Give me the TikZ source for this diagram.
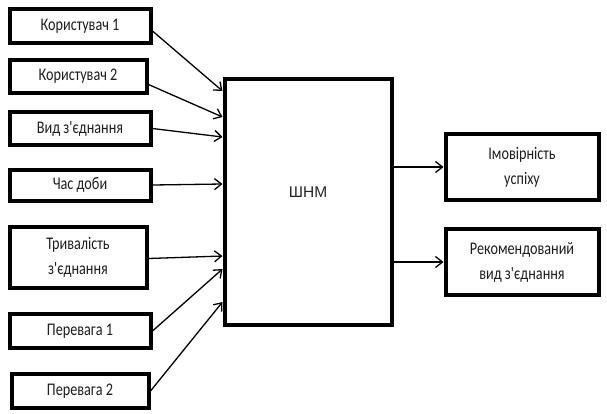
\documentclass[tikz,border=0pt]{standalone}
\usepackage{fontspec}
\setmainfont{Carlito}[Ligatures=TeXOff]
\newfontfamily\arialf{Liberation Sans}
\usetikzlibrary{arrows.meta}
\definecolor{txt}{HTML}{1E1E1E}
\newcommand\tl[1]{\scalebox{1}[1.25]{#1}}
\tikzset{
  box/.style={draw=black, line width=4pt, fill=white, align=center, text=txt,
    font=\fontsize{14.2}{25}\selectfont, inner sep=0pt},
  arr/.style={line width=1.3pt, -{Straight Barb[length=7pt,width=11pt,line width=1.3pt]}}
}
\begin{document}
\begin{tikzpicture}[x=1pt,y=-1pt]
\useasboundingbox (0,0) rectangle (607,413);
\node[box, minimum width=141, minimum height=34] (u1) at (80,26) {\tl{Користувач 1}};
\node[box, minimum width=137, minimum height=33] (u2) at (78,76.5) {\tl{Користувач 2}};
\node[box, minimum width=141, minimum height=33] (vz) at (80,128.5) {\tl{Вид з'єднання}};
\node[box, minimum width=141, minimum height=31] (cd) at (80,185) {\tl{Час доби}};
\node[box, minimum width=137, minimum height=61] (tz) at (78,257.5) {\tl{Тривалість}\\\tl{з'єднання}};
\node[box, minimum width=141, minimum height=34] (p1) at (80,331) {\tl{Перевага 1}};
\node[box, minimum width=137, minimum height=34] (p2) at (80,391) {\tl{Перевага 2}};
\node[box, minimum width=167, minimum height=246] (c) at (308,202) {};
\node[text=black!85, font=\arialf\fontsize{15.5}{18}\selectfont] (lbl) at (308,192) {ШНМ};
\node[box, minimum width=153, minimum height=66] (im) at (522,167) {\tl{Імовірність}\\\tl{успіху}};
\node[box, minimum width=153, minimum height=66] (rv) at (522,262) {\tl{Рекомендований}\\\tl{вид з'єднання}};
\coordinate (i1) at (c.west |- 0,91);
\coordinate (i2) at (c.west |- 0,117);
\coordinate (i3) at (c.west |- 0,137);
\coordinate (i4) at (c.west |- 0,184);
\coordinate (i5) at (c.west |- 0,256);
\coordinate (i6) at (c.west |- 0,269);
\coordinate (i7) at (c.west |- 0,302);
\draw[arr] ([yshift=-5]u1.east) -- (i1);
\draw[arr] ([yshift=-8]u2.east) -- (i2);
\draw[arr] (vz.east) -- (i3);
\draw[arr] (cd.east) -- (i4);
\draw[arr] ([yshift=-1]tz.east) -- (i5);
\draw[arr] (p1.east) -- (i6);
\draw[arr] (p2.east) -- (i7);
\coordinate (o1) at (c.east |- im.west);
\coordinate (o2) at (c.east |- rv.west);
\draw[arr] (o1) -- (im.west);
\draw[arr] (o2) -- (rv.west);
\end{tikzpicture}
\end{document}
